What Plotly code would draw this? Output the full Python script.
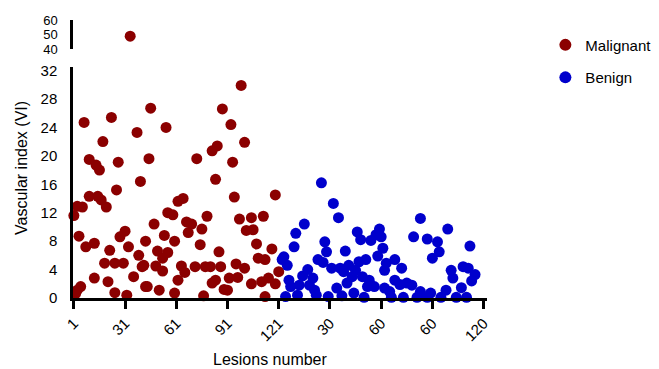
import plotly.graph_objects as go

# ---- data -----------------------------------------------------------------
malignant_lesion = [7, 23, 38, 18, 10, 14, 16, 27, 40, 26, 10, 15, 17, 20, 3, 6, 1, 4, 8, 13,
                    28, 31, 33, 22, 43, 39, 41, 19, 25, 30, 36, 13, 21, 3, 5, 2, 25, 32, 43, 34,
                    46, 55, 88, 99, 45, 73, 82, 85, 84, 62, 65, 56, 59, 48, 67, 70, 68, 76, 79, 54,
                    60, 75, 50, 56, 53, 86, 42, 49, 53, 64, 66, 72, 78, 81, 87, 62, 82, 84, 44, 51,
                    60, 77, 89, 93, 101, 94, 95, 119, 98, 105, 112, 102, 106, 108, 117, 109, 113, 96, 101, 92,
                    97, 121, 105, 111, 115, 119, 91, 113]
malignant_vi = [24.7, 25.4, 23.3, 22.0, 19.5, 18.7, 18.0, 19.1, 16.4, 15.2, 14.3, 14.3, 13.8, 12.8, 12.9, 12.8, 11.6, 8.7, 7.2, 7.7,
                8.6, 9.4, 7.2, 6.7, 8.0, 6.0, 4.4, 4.9, 4.9, 4.9, 3.0, 2.8, 2.3, 1.1, 1.6, 0.6, 0.75, 0.4, 1.6, 49.0,
                26.7, 24.0, 26.6, 29.9, 19.6, 19.6, 20.7, 21.4, 16.7, 13.6, 14.0, 12.0, 11.7, 10.4, 10.7, 10.4, 9.2, 9.7, 11.5, 8.8,
                8.0, 7.5, 6.6, 6.4, 5.6, 6.5, 4.6, 4.5, 3.8, 4.5, 3.6, 4.4, 4.4, 4.4, 4.4, 2.5, 2.1, 2.5, 1.6, 1.1,
                0.7, 0.3, 1.2, 24.4, 21.9, 19.1, 14.2, 14.5, 11.1, 11.3, 11.5, 9.5, 9.6, 7.6, 6.9, 5.6, 5.4, 4.8, 4.2, 2.8,
                2.9, 3.7, 2.0, 2.3, 2.8, 2.0, 1.1, 0.2]

benign_lesion = [25, 32, 35, 15, 10, 9, 27, 28, 39, 46, 48, 54, 57, 59, 58, 51, 47, 3, 2, 5,
                 23, 26, 31, 36, 41, 45, 17, 14, 20, 6, 7, 38, 43, 40, 49, 53, 52, 56, 12, 18,
                 21, 34, 44, 4, 11, 22, 29, 37, 50, 60, 61, 62, 62,
                 83, 99, 79, 87, 93, 94, 90, 112, 63, 68, 72, 101, 102, 108, 111, 115, 113, 68,
                 71, 75, 78, 65, 83, 89, 98, 107, 66, 73, 81, 87, 95, 104, 110]
benign_vi = [16.2, 13.3, 11.3, 10.4, 9.1, 7.2, 7.9, 6.5, 6.6, 9.3, 8.2, 8.1, 8.9, 9.7, 5.9, 5.4, 5.1, 5.8, 5.4, 4.6,
             5.4, 5.0, 4.2, 4.2, 4.6, 3.9, 4.0, 3.1, 2.8, 2.5, 1.6, 3.7, 3.0, 2.1, 3.0, 2.5, 1.6, 1.6, 1.8, 1.8,
             1.1, 1.4, 0.7, 0.2, 0.4, 0.4, 0.2, 0.3, 0.1, 8.6, 7.0, 3.9, 1.4,
             11.2, 9.7, 8.6, 8.3, 7.9, 6.5, 5.6, 7.3, 4.9, 5.4, 4.2, 3.9, 2.8, 4.4, 4.2, 3.3, 2.4, 2.5,
             1.9, 2.1, 1.8, 0.9, 0.9, 0.7, 1.1, 1.45, 0.1, 0.1, 0.1, 0.1, 0.1, 0.1, 0.1]

benign_offset = 121  # benign lesions are drawn after the 121 malignant ones
x_tickvals = [1, 31, 61, 91, 121, 151, 181, 211, 241]
x_ticktext = ["1", "31", "61", "91", "121", "30", "60", "60", "120"]
y_low_ticks = [0, 4, 8, 12, 16, 20, 24, 28, 32]
y_high_ticks = [40, 50, 60]
break_at = 35

RED = "#8B0000"
BLUE = "#0000CC"
FONT = "Liberation Sans, Arial, sans-serif"

fig = go.Figure()


def add_series(xs, ys, name, color, group):
    lo_x = [x for x, y in zip(xs, ys) if y <= break_at]
    lo_y = [y for y in ys if y <= break_at]
    hi_x = [x for x, y in zip(xs, ys) if y > break_at]
    hi_y = [y for y in ys if y > break_at]
    fig.add_trace(go.Scatter(x=lo_x, y=lo_y, mode="markers", name=name, legendgroup=group,
                             marker=dict(color=color, size=11), cliponaxis=False,
                             xaxis="x", yaxis="y"))
    if hi_x:
        fig.add_trace(go.Scatter(x=hi_x, y=hi_y, mode="markers", name=name, legendgroup=group,
                                 showlegend=False, marker=dict(color=color, size=11),
                                 cliponaxis=False, xaxis="x", yaxis="y2"))


add_series(malignant_lesion, malignant_vi, "Malignant", RED, "m")
add_series([b + benign_offset for b in benign_lesion], benign_vi, "Benign", BLUE, "b")

axis_common = dict(showgrid=False, zeroline=False, showline=True, linecolor="black",
                   linewidth=2.5, automargin=False)

W, H = 651, 361
ML, MR, MT, MB = 65, 172, 12, 71
plot_w = W - ML - MR

fig.update_layout(
    width=W, height=H,
    margin=dict(l=ML, r=MR, t=MT, b=MB, autoexpand=False),
    plot_bgcolor="white", paper_bgcolor="white",
    font=dict(family=FONT, size=15, color="black"),
    xaxis=dict(range=[0.5, 243], tickvals=x_tickvals, ticktext=x_ticktext, tickangle=-45,
               ticks="outside", ticklen=8, tickwidth=2.5, tickcolor="black",
               tickfont=dict(family=FONT, size=15, color="black"), **axis_common),
    yaxis=dict(range=[0, 32.5], domain=[0, 0.831], tickvals=y_low_ticks, ticks="outside",
               ticklen=0, ticklabelstandoff=10,
               tickfont=dict(family=FONT, size=15, color="black"), **axis_common),
    yaxis2=dict(range=[40, 60], domain=[0.894, 1], tickvals=y_high_ticks, ticks="outside",
                ticklen=0, ticklabelstandoff=10, anchor="x",
                tickfont=dict(family=FONT, size=13, color="black"), **axis_common),
    legend=dict(x=1.141, y=0.969, xanchor="left", yanchor="top", tracegroupgap=10,
                font=dict(family=FONT, size=15), itemsizing="constant"),
    annotations=[
        dict(text="Vascular index (VI)", x=(14 - ML) / plot_w, xref="paper", y=0.468, yref="paper",
             showarrow=False, textangle=-90, font=dict(family=FONT, size=16),
             xanchor="center", yanchor="middle"),
        dict(text="Lesions number", x=0.476, xref="paper", y=-0.22, yref="paper",
             showarrow=False, font=dict(family=FONT, size=16),
             xanchor="center", yanchor="middle"),
    ],
)

fig.write_html("out.html")
